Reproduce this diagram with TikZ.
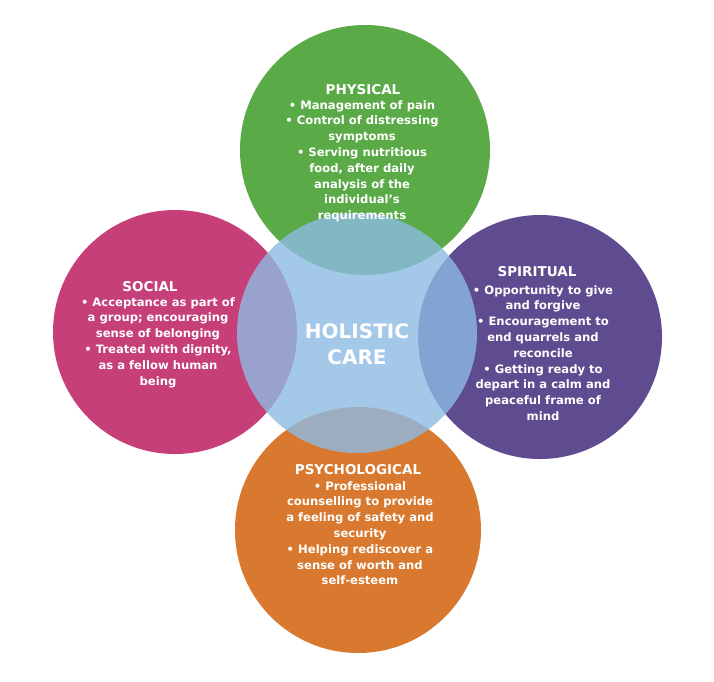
\documentclass[tikz,border=0pt]{standalone}
\usepackage{fontspec}
\setmainfont{DejaVu Sans}
\definecolor{physgreen}{HTML}{5AAA48}
\definecolor{socmagenta}{HTML}{C63F78}
\definecolor{spirpurple}{HTML}{5F4B8F}
\definecolor{psyorange}{HTML}{D8792F}
\definecolor{careblue}{HTML}{8DBBE3}
\tikzset{
  petal/.style={draw=none},
  petaltext/.style={text=white, font=\fontsize{11.6}{15.8}\selectfont\bfseries, align=center, inner sep=0pt},
  heading/.style={text=white, font=\fontsize{13.5}{15}\selectfont\bfseries},
}
\begin{document}
\begin{tikzpicture}[x=1pt,y=-1pt]
  \useasboundingbox[fill=white] (0,0) rectangle (714,681);
  % four petals
  \fill[petal, physgreen] (365,150) circle (125);
  \fill[petal, socmagenta] (175,332) circle (122);
  \fill[petal, spirpurple] (540,337) circle (122);
  \fill[petal, psyorange] (358,530) circle (123);
  % centre
  \fill[petal, careblue, opacity=0.8] (357,333) circle (120);
  \node[text=white, font=\fontsize{20}{26}\selectfont\bfseries, align=center] (care) at (357,344) {HOLISTIC\\CARE};
  % physical
  \node[heading] (physical) at (363,90) {PHYSICAL};
  \node[petaltext, anchor=north] (physicaltext) at (362,100)
    {• Management of pain\\• Control of distressing\\symptoms\\• Serving nutritious\\food, after daily\\analysis of the\\individual's\\requirements};
  % social
  \node[heading] (social) at (150,287) {SOCIAL};
  \node[petaltext, anchor=north] (socialtext) at (158,297)
    {• Acceptance as part of\\a group; encouraging\\sense of belonging\\• Treated with dignity,\\as a fellow human\\being};
  % spiritual
  \node[heading] (spiritual) at (537,272) {SPIRITUAL};
  \node[petaltext, anchor=north] (spiritualtext) at (543,285)
    {• Opportunity to give\\and forgive\\• Encouragement to\\end quarrels and\\reconcile\\• Getting ready to\\depart in a calm and\\peaceful frame of\\mind};
  % psychological
  \node[heading] (psychological) at (358,470) {PSYCHOLOGICAL};
  \node[petaltext, anchor=north] (psychologicaltext) at (360,481)
    {• Professional\\counselling to provide\\a feeling of safety and\\security\\• Helping rediscover a\\sense of worth and\\self-esteem};
\end{tikzpicture}
\end{document}
